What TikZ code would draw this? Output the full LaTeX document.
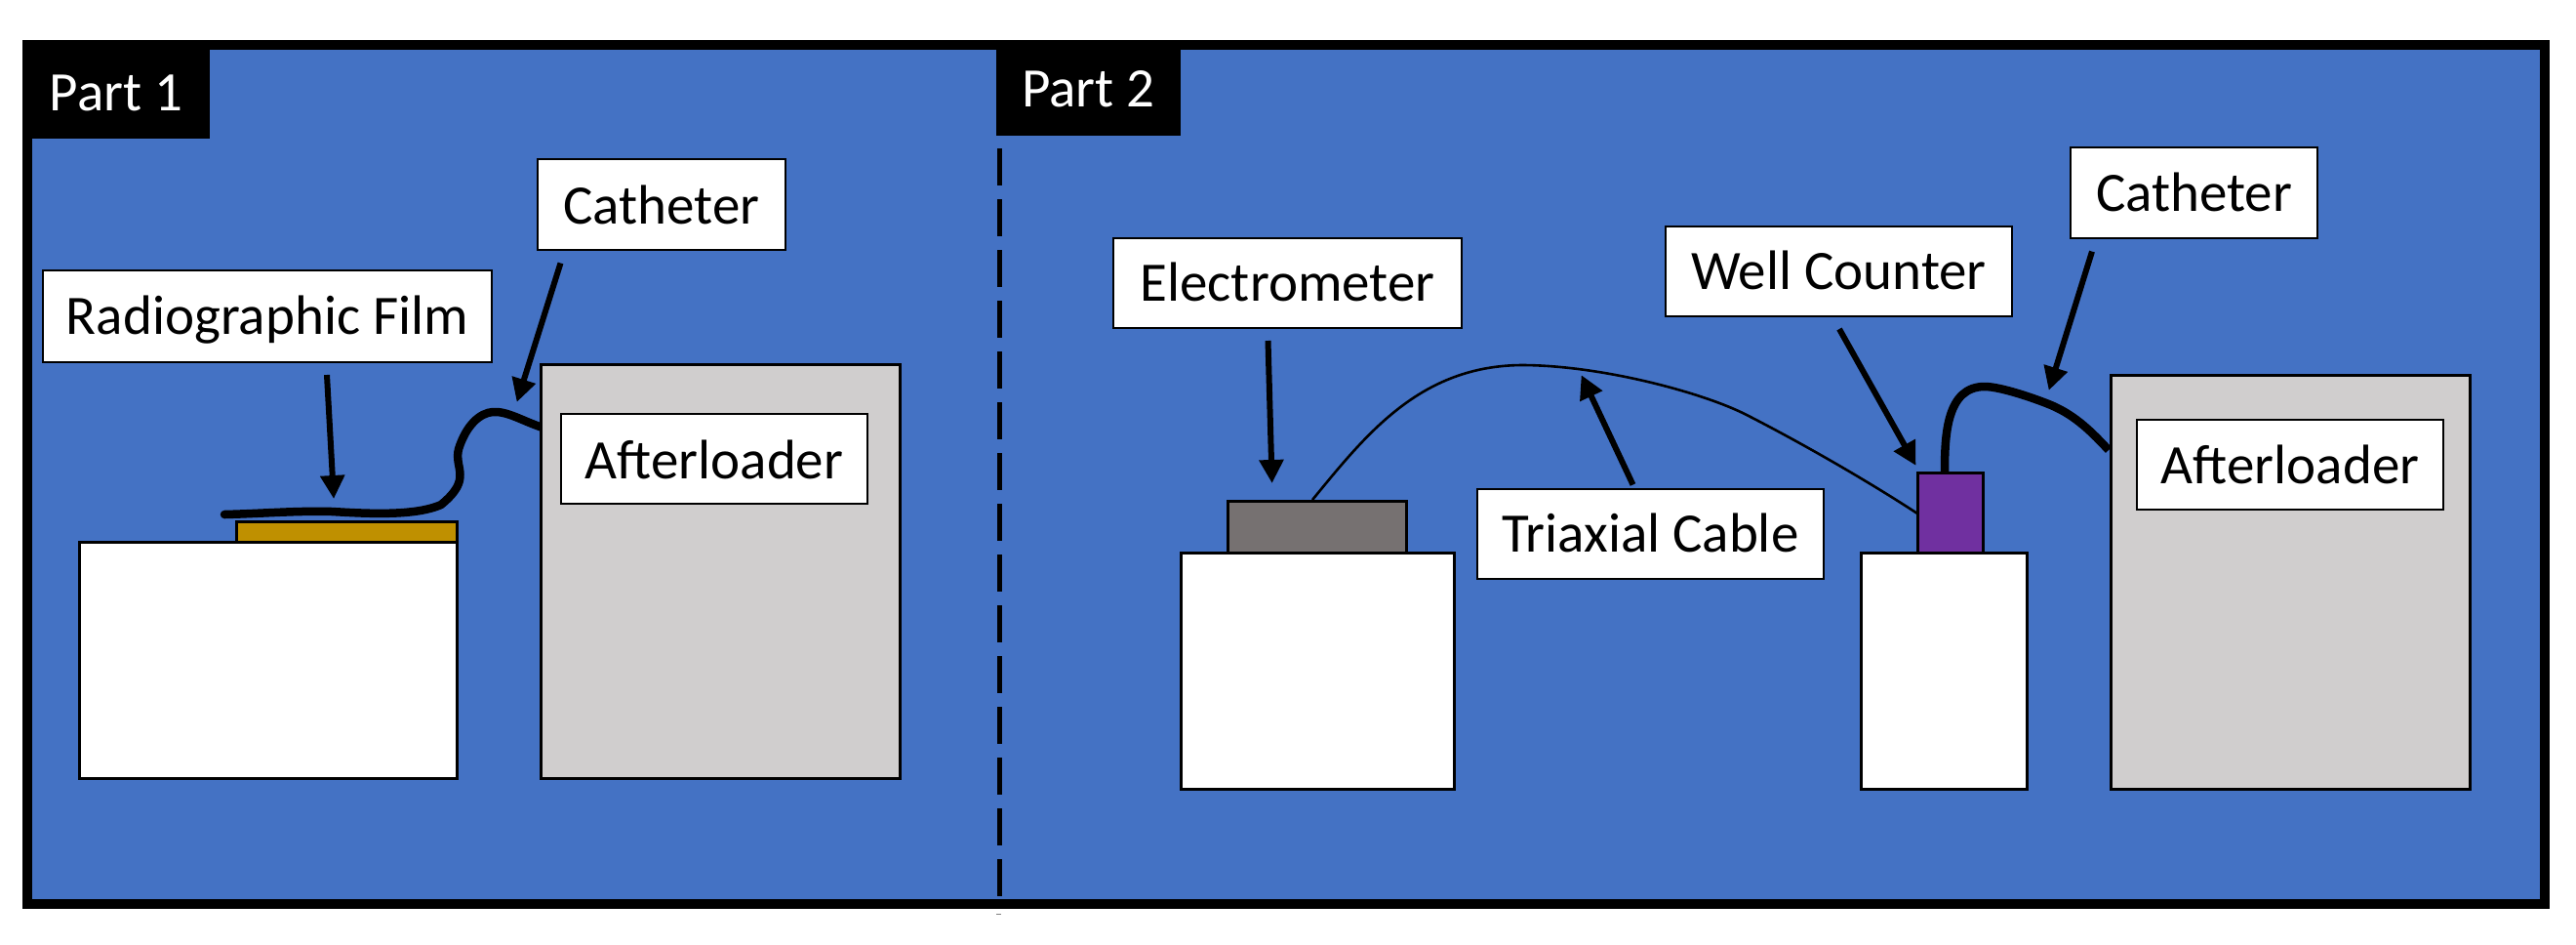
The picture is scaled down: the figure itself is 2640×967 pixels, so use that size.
\documentclass[tikz,border=0pt]{standalone}
\usepackage{fontspec}
\setmainfont{Carlito}
\usetikzlibrary{arrows.meta}
\definecolor{bluebg}{HTML}{4472C4}
\definecolor{afterg}{HTML}{D0CECE}
\definecolor{filmc}{HTML}{BF9000}
\definecolor{elecg}{HTML}{767171}
\definecolor{wellp}{HTML}{7030A0}
\tikzset{
  partbox/.style={inner sep=0pt,outer sep=0pt,draw=black,line width=3pt,fill=white},
  labelbox/.style={partbox,line width=2.4pt,font=\fontsize{57}{62}\selectfont,text=black},
  tagbox/.style={inner sep=0pt,outer sep=0pt,fill=black,text=white,font=\fontsize{57}{62}\selectfont},
  pointer/.style={line width=6pt,-{Triangle[length=24pt,width=24pt]},shorten >=-1pt},
  heavywire/.style={line width=8.5pt,line cap=butt,line join=round},
  thinwire/.style={line width=2.6pt},
  divider/.style={line width=5pt,dash pattern=on 38pt off 14pt}
}
% name, x1, y1, x2, y2, style, text
\newcommand{\rbox}[7]{%
  \pgfmathsetmacro{\cxx}{(#2+#4)/2}\pgfmathsetmacro{\cyy}{(#3+#5)/2}%
  \pgfmathsetmacro{\wdd}{#4-#2}\pgfmathsetmacro{\htt}{#5-#3}%
  \node[#6,minimum width=\wdd pt,minimum height=\htt pt] (#1) at (\cxx,\cyy) {#7};}
% baseline offset below the centre of the box, text
\newcommand{\lbl}[2]{\raisebox{-#1pt}[0pt][0pt]{#2}}
\begin{document}
\begin{tikzpicture}[x=1pt,y=-1pt]
\useasboundingbox (0,0) rectangle (2640,967);
\fill[white] (0,0) rectangle (2640,967);
\node[inner sep=0pt,outer sep=0pt,draw=black,fill=bluebg,line width=10pt,minimum width=2580pt,minimum height=880pt] (frame) at (1318,486) {};
% divider
\coordinate (divtop) at (1024,152);
\coordinate (divbot) at (1024,926);
\draw[divider] (divtop) -- (divbot);
\fill[gray] (1021,935.5) rectangle (1026,936.5);
% tags
\rbox{tagone}{23}{41}{215}{142}{tagbox}{\lbl{21.5}{Part 1}}
\rbox{tagtwo}{1021}{41}{1210}{139}{tagbox}{\lbl{19}{Part 2}}
% Part 1
\coordinate (w1s) at (230,527); \coordinate (w1e) at (556,438);
\fill (w1s) circle (4.25pt);
\draw[heavywire] (w1s) .. controls (270,526) and (305,523) .. (340,524)
  .. controls (375,526) and (425,529) .. (452,517)
  .. controls (485,490) and (465,480) .. (470,460)
  .. controls (478,435) and (492,423) .. (505,422)
  .. controls (520,421) and (535,431) .. (w1e);
\rbox{tableone}{81}{555}{468}{797}{partbox}{}
\rbox{film}{242}{534}{468}{555}{partbox,fill=filmc}{}
\rbox{afterone}{554}{373}{922}{797}{partbox,fill=afterg}{}
\rbox{afteronelabel}{575}{424}{889}{516}{labelbox}{\lbl{20.5}{Afterloader}}
\rbox{catheterone}{551}{163}{805}{256}{labelbox}{\lbl{20}{Catheter}}
\rbox{filmlabel}{44}{277}{504}{371}{labelbox}{\lbl{18.5}{Radiographic Film}}
\coordinate (a1s) at (335,384); \coordinate (a1e) at (342,510);
\coordinate (a2s) at (574.5,269.5); \coordinate (a2e) at (530,411);
\draw[pointer] (a1s) -- (a1e);
\draw[pointer] (a2s) -- (a2e);
% Part 2
\rbox{tabletwo}{1210}{566}{1490}{808}{partbox}{}
\rbox{electro}{1258}{513}{1441}{566}{partbox,fill=elecg}{}
\rbox{tablethree}{1907}{566}{2077}{808}{partbox}{}
\rbox{well}{1965}{484}{2032}{566}{partbox,fill=wellp}{}
\rbox{aftertwo}{2163}{384}{2531}{808}{partbox,fill=afterg}{}
\rbox{aftertwolabel}{2190}{430}{2504}{522}{labelbox}{\lbl{19}{Afterloader}}
\rbox{electrolabel}{1141}{244}{1498}{336}{labelbox}{\lbl{18.5}{Electrometer}}
\rbox{welllabel}{1707}{232}{2062}{324}{labelbox}{\lbl{18}{Well Counter}}
\rbox{cathetertwo}{2122}{151}{2375}{244}{labelbox}{\lbl{18.5}{Catheter}}
\rbox{triaxlabel}{1514}{501}{1869}{593}{labelbox}{\lbl{18}{Triaxial Cable}}
\coordinate (c1) at (1345,512); \coordinate (c2) at (1965,526);
\draw[thinwire] (c1) .. controls (1400,445) and (1455,375) .. (1559,374)
  .. controls (1640,374) and (1745,402) .. (1790,425)
  .. controls (1840,450.5) and (1910,490) .. (c2);
\coordinate (a3s) at (1299.5,349); \coordinate (a3e) at (1303.6,494);
\coordinate (a4s) at (1673.5,496.5); \coordinate (a4e) at (1621,385);
\coordinate (a5s) at (1885,337); \coordinate (a5e) at (1963,476);
\coordinate (a6s) at (2144,257.6); \coordinate (a6e) at (2100,399);
\draw[pointer] (a3s) -- (a3e);
\draw[pointer] (a4s) -- (a4e);
\draw[pointer] (a5s) -- (a5e);
\draw[pointer] (a6s) -- (a6e);
\coordinate (w2s) at (1993,484); \coordinate (w2e) at (2161,461);
\draw[heavywire] (w2s) .. controls (1993,445) and (1995,396) .. (2034,396)
  .. controls (2050,396) and (2085,408) .. (2102,415)
  .. controls (2128,426) and (2145,444) .. (w2e);
\end{tikzpicture}
\end{document}
